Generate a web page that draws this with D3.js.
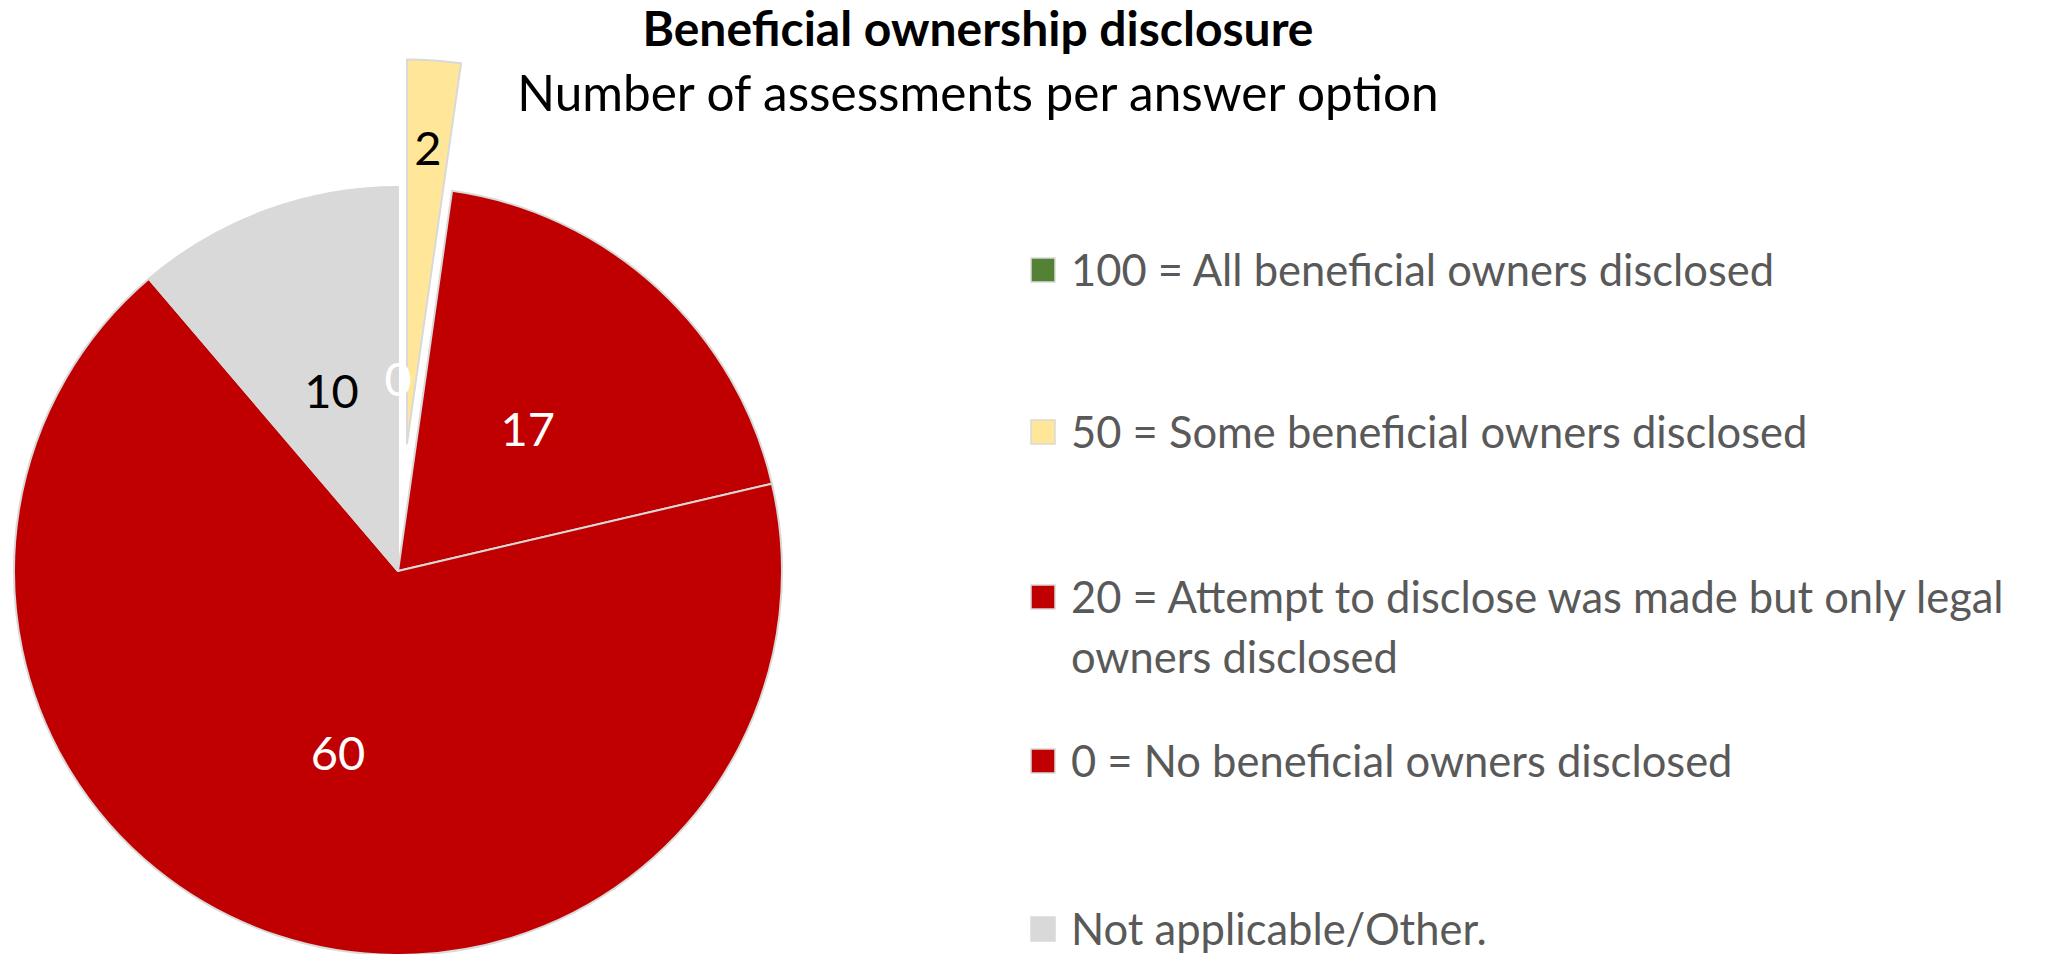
<!DOCTYPE html>
<html>
<head>
<meta charset="utf-8">
<script src="https://cdn.jsdelivr.net/npm/d3@7"></script>
<style>
  html, body { margin: 0; padding: 0; background: #ffffff; }
  svg { display: block; }
  text { font-family: Lato, "Open Sans", sans-serif; }
</style>
</head>
<body>
<svg id="chart" width="2048" height="954"></svg>
<script>
// Answer options and the number of assessments that received each one
const categories = [
  "100 = All beneficial owners disclosed",
  "50 = Some beneficial owners disclosed",
  "20 = Attempt to disclose was made but only legal owners disclosed",
  "0 = No beneficial owners disclosed",
  "Not applicable/Other."
];
const values = [0, 2, 17, 60, 10];
const sliceColors = ["#548235", "#ffe699", "#c00000", "#c00000", "#d9d9d9"];
const labelColors = ["#ffffff", "#000000", "#ffffff", "#ffffff", "#000000"];
const exploded = [false, true, false, false, false];

const titleText = "Beneficial ownership disclosure";
const subtitleText = "Number of assessments per answer option";

const W = 2048, H = 954;
const svg = d3.select("#chart");

// Pie geometry
const cx = 398, cy = 571, R = 384;
const explodeDist = 0.333 * R;

const pie = d3.pie().sort(null).value(d => d.value);
const data = categories.map((c, i) => ({
  name: c, value: values[i], color: sliceColors[i],
  labelColor: labelColors[i], exploded: exploded[i]
}));
const arcs = pie(data);

const arc = d3.arc().innerRadius(0).outerRadius(R);
const labelArc = d3.arc().innerRadius(0).outerRadius(R);           // centroid at R/2
const explodedLabelArc = d3.arc().innerRadius(0.77 * R).outerRadius(0.77 * R);

function offsetOf(d) {
  if (!d.data.exploded) return [0, 0];
  const a = (d.startAngle + d.endAngle) / 2;
  return [Math.sin(a) * explodeDist, -Math.cos(a) * explodeDist];
}

const g = svg.append("g").attr("transform", `translate(${cx},${cy})`);

g.selectAll("path.slice")
  .data(arcs.filter(d => d.value > 0))
  .join("path")
  .attr("class", "slice")
  .attr("d", arc)
  .attr("transform", d => { const o = offsetOf(d); return `translate(${o[0]},${o[1]})`; })
  .attr("fill", d => d.data.color)
  .attr("stroke", "#d9d9d9")
  .attr("stroke-width", 2)
  .attr("stroke-linejoin", "round");

g.selectAll("text.val")
  .data(arcs)
  .join("text")
  .attr("class", "val")
  .attr("transform", d => {
    const o = offsetOf(d);
    const c = d.data.exploded ? explodedLabelArc.centroid(d) : labelArc.centroid(d);
    return `translate(${c[0] + o[0]},${c[1] + o[1]})`;
  })
  .attr("text-anchor", "middle")
  .attr("dy", "0.36em")
  .attr("font-size", 47)
  .attr("fill", d => d.data.labelColor)
  .text(d => d.value);

// Title block
svg.append("text")
  .attr("x", 978).attr("y", 46)
  .attr("text-anchor", "middle")
  .attr("font-size", 48)
  .attr("font-weight", "bold")
  .attr("fill", "#000000")
  .text(titleText);

svg.append("text")
  .attr("x", 978).attr("y", 111)
  .attr("text-anchor", "middle")
  .attr("font-size", 49.5)
  .attr("fill", "#000000")
  .text(subtitleText);

// Legend
const legendX = 1031, textX = 1071, sw = 24;
const rowY = [270, 432, 597, 761, 929];
const lineGap = 60;
const maxTextW = W - textX - 12;

const legend = svg.append("g");
categories.forEach((name, i) => {
  const row = legend.append("g");
  row.append("rect")
    .attr("x", legendX).attr("y", rowY[i] - sw / 2)
    .attr("width", sw).attr("height", sw)
    .attr("fill", sliceColors[i])
    .attr("stroke", "#d9d9d9").attr("stroke-width", 1.5);

  const t = row.append("text")
    .attr("x", textX).attr("y", rowY[i])
    .attr("dy", "0.36em")
    .attr("font-size", 43.5)
    .attr("fill", "#595959");

  // simple word wrap
  const words = name.split(" ");
  let line = [];
  let tspan = t.append("tspan").attr("x", textX);
  words.forEach(w => {
    line.push(w);
    tspan.text(line.join(" "));
    if (tspan.node().getComputedTextLength() > maxTextW && line.length > 1) {
      line.pop();
      tspan.text(line.join(" "));
      line = [w];
      tspan = t.append("tspan").attr("x", textX).attr("dy", lineGap).text(w);
    }
  });
});
</script>
</body>
</html>
